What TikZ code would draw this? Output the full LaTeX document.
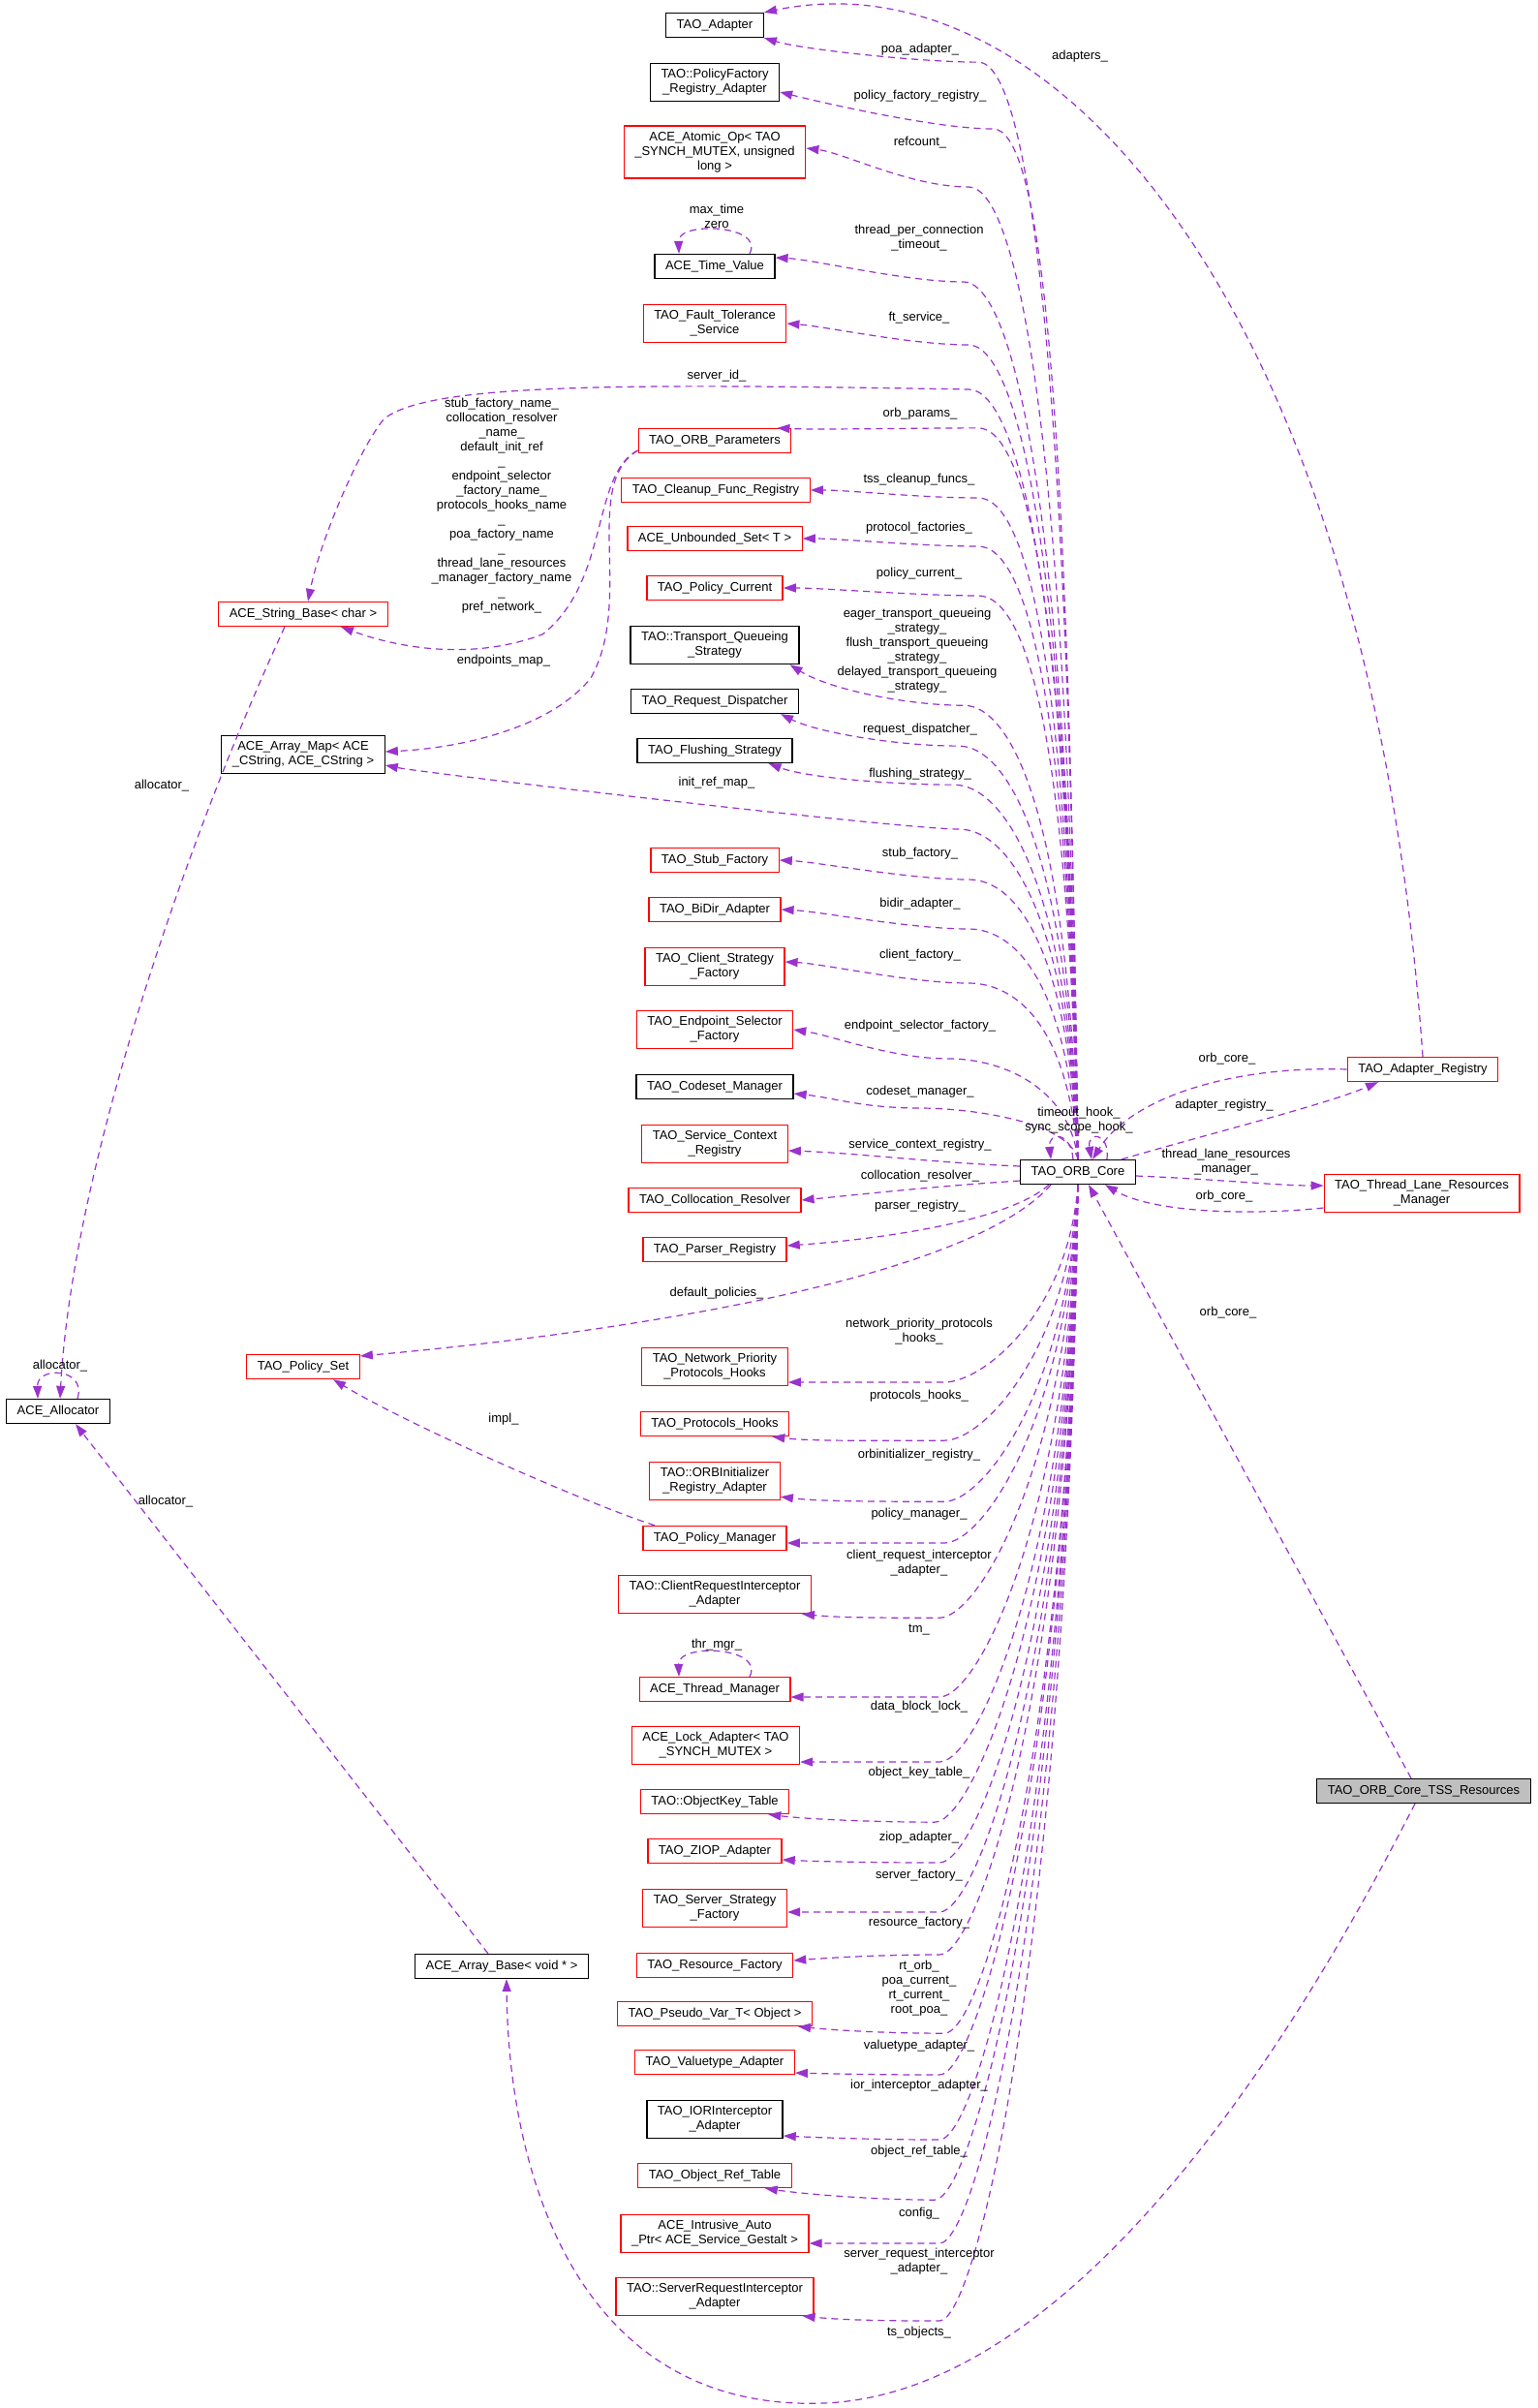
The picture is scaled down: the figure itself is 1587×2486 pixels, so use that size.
\documentclass[tikz,border=0pt]{standalone}
\usepackage{fontspec}
\setmainfont{Liberation Sans}
\usepackage{tikz}
\usetikzlibrary{arrows.meta,calc}

\definecolor{edgepurple}{HTML}{9A32CD}
\definecolor{tssgray}{HTML}{BFBFBF}

\tikzset{
  cls/.style={draw=black, line width=1.3pt, inner xsep=11pt, inner ysep=6pt, minimum height=25pt, align=center, font=\fontsize{13pt}{15pt}\selectfont},
  redcls/.style={cls, draw=red},
  member/.style={draw=edgepurple, line width=1.2pt, dash pattern=on 7pt off 5pt, -{Triangle[length=13pt,width=9pt]}},
  lbl/.style={inner sep=0pt, align=center, font=\fontsize{13pt}{15pt}\selectfont}
}

% from, to, corner x, corner drop, arrival drop
\newcommand{\memto}[5]{%
  \draw[member] let \p1=(#1), \p2=(#2) in
    (\p1) .. controls ({\x1-10pt},{\y2-(#4pt)+0.25*(\y1-\y2+(#4pt))}) and ({#3pt+50pt},{\y2-(#4pt)}) .. ({#3pt},{\y2-(#4pt)})
          .. controls ({#3pt-60pt},{\y2-(#4pt)}) and ({\x2+40pt},{\y2-(#5pt)}) .. (\p2);}
% same, sharper corner, for the members below the core
\newcommand{\memdown}[5]{%
  \draw[member] let \p1=(#1), \p2=(#2) in
    (\p1) .. controls ({\x1-10pt},{\y2-(#4pt)+0.35*(\y1-\y2+(#4pt))}) and ({#3pt+40pt},{\y2-(#4pt)}) .. ({#3pt},{\y2-(#4pt)})
          .. controls ({#3pt-60pt},{\y2-(#4pt)}) and ({\x2+40pt},{\y2-(#5pt)}) .. (\p2);}

\begin{document}
\begin{tikzpicture}[x=1pt, y=-1pt]
    \useasboundingbox[fill=white] (0,0) rectangle (1587,2486);

    \node[cls] (adapter) at (738,26) {TAO\_Adapter};
    \node[cls] (pfreg) at (738,85) {TAO::PolicyFactory\\\_Registry\_Adapter};
    \node[redcls] (atomic) at (738,157) {ACE\_Atomic\_Op< TAO\\\_SYNCH\_MUTEX, unsigned\\long >};
    \node[cls] (timeval) at (738,275) {ACE\_Time\_Value};
    \node[redcls] (ftserv) at (738,334) {TAO\_Fault\_Tolerance\\\_Service};
    \node[redcls] (orbparams) at (738,455) {TAO\_ORB\_Parameters};
    \node[redcls] (cleanup) at (739,506) {TAO\_Cleanup\_Func\_Registry};
    \node[redcls] (uset) at (738,556) {ACE\_Unbounded\_Set< T >};
    \node[redcls] (pcur) at (738,607) {TAO\_Policy\_Current};
    \node[cls] (tqs) at (738,666) {TAO::Transport\_Queueing\\\_Strategy};
    \node[cls] (rdisp) at (738,724) {TAO\_Request\_Dispatcher};
    \node[cls] (flush) at (738,775) {TAO\_Flushing\_Strategy};
    \node[redcls] (stubf) at (738,888) {TAO\_Stub\_Factory};
    \node[redcls] (bidir) at (738,939) {TAO\_BiDir\_Adapter};
    \node[redcls] (clientf) at (738,998) {TAO\_Client\_Strategy\\\_Factory};
    \node[redcls] (epsel) at (738,1063) {TAO\_Endpoint\_Selector\\\_Factory};
    \node[cls] (codeset) at (738,1122) {TAO\_Codeset\_Manager};
    \node[redcls] (scr) at (738,1181) {TAO\_Service\_Context\\\_Registry};
    \node[redcls] (colres) at (738,1239) {TAO\_Collocation\_Resolver};
    \node[redcls] (parser) at (738,1290) {TAO\_Parser\_Registry};
    \node[redcls] (npph) at (738,1411) {TAO\_Network\_Priority\\\_Protocols\_Hooks};
    \node[redcls] (phooks) at (738,1470) {TAO\_Protocols\_Hooks};
    \node[redcls] (orbinit) at (738,1529) {TAO::ORBInitializer\\\_Registry\_Adapter};
    \node[redcls] (polman) at (738,1588) {TAO\_Policy\_Manager};
    \node[redcls] (cria) at (738,1646) {TAO::ClientRequestInterceptor\\\_Adapter};
    \node[redcls] (thrmgr) at (738,1744) {ACE\_Thread\_Manager};
    \node[redcls] (lockad) at (739,1802) {ACE\_Lock\_Adapter< TAO\\\_SYNCH\_MUTEX >};
    \node[redcls] (okt) at (738,1860) {TAO::ObjectKey\_Table};
    \node[redcls] (ziop) at (738,1911) {TAO\_ZIOP\_Adapter};
    \node[redcls] (ssf) at (738,1970) {TAO\_Server\_Strategy\\\_Factory};
    \node[redcls] (resf) at (738,2029) {TAO\_Resource\_Factory};
    \node[redcls] (pvar) at (738,2079) {TAO\_Pseudo\_Var\_T< Object >};
    \node[redcls] (vta) at (738,2129) {TAO\_Valuetype\_Adapter};
    \node[cls] (iora) at (738,2188) {TAO\_IORInterceptor\\\_Adapter};
    \node[redcls] (ort) at (738,2246) {TAO\_Object\_Ref\_Table};
    \node[redcls] (iap) at (738,2306) {ACE\_Intrusive\_Auto\\\_Ptr< ACE\_Service\_Gestalt >};
    \node[redcls] (sria) at (738,2371) {TAO::ServerRequestInterceptor\\\_Adapter};

    \node[redcls] (strbase) at (313,634) {ACE\_String\_Base< char >};
    \node[cls] (amap) at (313,779) {ACE\_Array\_Map< ACE\\\_CString, ACE\_CString >};
    \node[redcls] (pset) at (313,1411) {TAO\_Policy\_Set};
    \node[cls] (alloc) at (60,1457) {ACE\_Allocator};
    \node[cls] (abase) at (518,2030) {ACE\_Array\_Base< void * >};
    \node[cls] (core) at (1113,1210) {TAO\_ORB\_Core};
    \node[redcls] (areg) at (1469,1104) {TAO\_Adapter\_Registry};
    \node[redcls] (tlrm) at (1468,1232) {TAO\_Thread\_Lane\_Resources\\\_Manager};
    \node[cls, fill=tssgray] (tss) at (1470,1849) {TAO\_ORB\_Core\_TSS\_Resources};

    \memto{core.north}{adapter.south east}{1010}{25}{12}
    \memto{core.north}{[yshift=-10pt]pfreg.east}{1025}{38}{10}
    \memto{core.north}{[yshift=4pt]atomic.east}{1000}{40}{5}
    \memto{core.north}{[yshift=9pt]timeval.east}{995}{25}{2}
    \memto{core.north}{ftserv.east}{1000}{22}{3}
    \memto{core.north}{[xshift=-15pt]orbparams.north east}{1010}{0}{2}
    \memto{core.north}{cleanup.east}{1010}{8}{0}
    \memto{core.north}{uset.east}{1010}{8}{0}
    \memto{core.north}{pcur.east}{1010}{8}{0}
    \memto{core.north}{[xshift=-10pt]tqs.south east}{995}{42}{25}
    \memto{core.north}{[xshift=-19pt]rdisp.south east}{990}{33}{20}
    \memto{core.north}{[xshift=-25pt]flush.south east}{985}{22}{15}
    \memto{core.north}{[yshift=-11pt]amap.east}{990}{66}{8}
    \memto{core.north}{stubf.east}{1000}{20}{2}
    \memto{core.north}{bidir.east}{1000}{20}{2}
    \memto{core.north}{[yshift=5pt]clientf.east}{1000}{22}{2}
    \memto{core.north}{epsel.east}{980}{30}{6}
    \memto{core.north}{[yshift=-7pt]codeset.east}{950}{15}{4}

    \memdown{core.south}{[yshift=-16pt]npph.east}{975}{0}{0}
    \memdown{core.south}{[xshift=-18pt]phooks.south east}{975}{4}{5}
    \memdown{core.south}{[yshift=4pt]orbinit.south east}{975}{5}{5}
    \memdown{core.south}{[yshift=-5pt]polman.east}{975}{0}{0}
    \memdown{core.south}{[xshift=-10pt]cria.south east}{970}{4}{4}
    \memdown{core.south}{[yshift=-8pt]thrmgr.east}{970}{0}{0}
    \memdown{core.south}{[yshift=-17pt]lockad.east}{970}{0}{0}
    \memdown{core.south}{[xshift=-22pt]okt.south east}{965}{8}{5}
    \memdown{core.south}{[yshift=-9pt]ziop.east}{970}{3}{2}
    \memdown{core.south}{[yshift=-4pt]ssf.east}{970}{0}{0}
    \memdown{core.south}{[yshift=5pt]resf.east}{970}{-6}{-3}
    \memdown{core.south}{[xshift=-15pt]pvar.south east}{975}{7}{4}
    \memdown{core.south}{[yshift=-11pt]vta.east}{970}{2}{1}
    \memdown{core.south}{[yshift=-17pt]iora.east}{970}{4}{2}
    \memdown{core.south}{[xshift=-28pt]ort.south east}{965}{12}{6}
    \memdown{core.south}{[yshift=-10pt]iap.east}{970}{0}{0}
    \memdown{core.south}{[xshift=-12pt]sria.south east}{970}{5}{4}

    \draw[member] (core.north) .. controls (1103,601) and (1050,402) .. (1000,402)
        .. controls (650,396) and (440,395) .. (396,433)
        .. controls (370,465) and (330,560) .. ([xshift=5pt]strbase.north);
    \draw[member] ([yshift=6pt]core.west) .. controls (960,1200) and (880,1190) .. ([yshift=-7pt]scr.east);
    \draw[member] ([yshift=-9pt]core.west) .. controls (960,1225) and (880,1234) .. (colres.east);
    \draw[member] ([xshift=-30pt]core.south) .. controls (1040,1262) and (900,1280) .. ([yshift=4pt]parser.east);
    \draw[member] ([xshift=-28pt]core.south) .. controls (1000,1320) and (650,1375) .. ([yshift=11pt]pset.east);

    \draw[member] ([xshift=-5pt]core.north) .. controls (1106,1168) and (1082,1168) .. ([xshift=-28pt]core.north);
    \draw[member] ([xshift=30pt]core.north) .. controls (1146,1168) and (1122,1168) .. ([xshift=14pt]core.north);
    \draw[member] ([xshift=36pt]timeval.north) .. controls (790,232) and (700,228) .. ([xshift=-37pt]timeval.north);
    \draw[member] ([xshift=36pt]thrmgr.north) .. controls (790,1700) and (700,1696) .. ([xshift=-37pt]thrmgr.north);
    \draw[member] ([xshift=20pt]alloc.north) .. controls (90,1412) and (38,1410) .. ([xshift=-21pt]alloc.north);

    \draw[member] (areg.north) .. controls (1415,320) and (1090,-50) .. (adapter.north east);
    \draw[member] (areg.west) .. controls (1280,1100) and (1170,1130) .. ([xshift=15pt]core.north);
    \draw[member] ([xshift=45pt]core.north) .. controls (1250,1170) and (1370,1140) .. ([xshift=-46pt]areg.south);
    \draw[member] ([yshift=-4pt]core.east) .. controls (1250,1217) and (1320,1224) .. ([yshift=8pt]tlrm.west);
    \draw[member] ([yshift=-15pt]tlrm.west) .. controls (1290,1255) and (1190,1252) .. ([xshift=28pt]core.south);
    \draw[member] ([xshift=-13pt]tss.north) -- ([xshift=11pt]core.south);
    \draw[member] ([xshift=-9pt]tss.south) .. controls (1400,1980) and (1150,2470) .. (850,2481)
        .. controls (600,2490) and (525,2250) .. ([xshift=5pt]abase.south);
    \draw[member] ([xshift=-14pt]abase.north) -- ([xshift=18pt]alloc.south);
    \draw[member] ([xshift=-19pt]strbase.south) .. controls (200,850) and (75,1200) .. ([xshift=2pt]alloc.north);
    \draw[member] ([yshift=-10pt]orbparams.west) .. controls (610,490) and (630,600) .. (560,655)
        .. controls (480,685) and (400,665) .. ([xshift=39pt]strbase.south);
    \draw[member] ([yshift=-10pt]orbparams.west) .. controls (600,500) and (655,620) .. (610,700)
        .. controls (570,750) and (480,772) .. ([yshift=3pt]amap.east);
    \draw[member] ([xshift=-62pt]polman.north) .. controls (600,1550) and (420,1470) .. ([xshift=31pt]pset.south);

    \node[lbl] (lmaxtime) at (740,223) {max\_time\\zero};
    \node[lbl] (lpoa) at (950,51) {poa\_adapter\_};
    \node[lbl] (lpfreg) at (950,99) {policy\_factory\_registry\_};
    \node[lbl] (lrefcount) at (950,147) {refcount\_};
    \node[lbl] (ltimeout) at (949,246) {thread\_per\_connection\\\_timeout\_};
    \node[lbl] (lft) at (949,328) {ft\_service\_};
    \node[lbl] (lserverid) at (740,388) {server\_id\_};
    \node[lbl] (ladapters) at (1115,58) {adapters\_};
    \node[lbl] (lorbparams) at (950,427) {orb\_params\_};
    \node[lbl] (ltss) at (949,495) {tss\_cleanup\_funcs\_};
    \node[lbl] (lprotfac) at (949,545) {protocol\_factories\_};
    \node[lbl] (lpcur) at (949,592) {policy\_current\_};
    \node[lbl] (ltqs) at (947,672) {eager\_transport\_queueing\\\_strategy\_\\flush\_transport\_queueing\\\_strategy\_\\delayed\_transport\_queueing\\\_strategy\_};
    \node[lbl] (lrdisp) at (950,753) {request\_dispatcher\_};
    \node[lbl] (lflush) at (950,799) {flushing\_strategy\_};
    \node[lbl] (linitref) at (740,808) {init\_ref\_map\_};
    \node[lbl] (lstub) at (950,881) {stub\_factory\_};
    \node[lbl] (lbidir) at (950,933) {bidir\_adapter\_};
    \node[lbl] (lclientf) at (950,986) {client\_factory\_};
    \node[lbl] (lepsel) at (950,1059) {endpoint\_selector\_factory\_};
    \node[lbl] (lcodeset) at (950,1127) {codeset\_manager\_};
    \node[lbl] (lhooks) at (1114,1157) {timeout\_hook\_\\sync\_scope\_hook\_};
    \node[lbl] (lscr) at (950,1182) {service\_context\_registry\_};
    \node[lbl] (lcolres) at (950,1214) {collocation\_resolver\_};
    \node[lbl] (lparser) at (950,1245) {parser\_registry\_};
    \node[lbl] (lorbcorea) at (1267,1093) {orb\_core\_};
    \node[lbl] (lareg) at (1264,1141) {adapter\_registry\_};
    \node[lbl] (ltlrm) at (1266,1200) {thread\_lane\_resources\\\_manager\_};
    \node[lbl] (lorbcoreb) at (1264,1235) {orb\_core\_};
    \node[lbl] (lorbcorec) at (1268,1355) {orb\_core\_};
    \node[lbl] (ldefpol) at (740,1335) {default\_policies\_};
    \node[lbl] (lnpph) at (949,1375) {network\_priority\_protocols\\\_hooks\_};
    \node[lbl] (lphooks) at (949,1441) {protocols\_hooks\_};
    \node[lbl] (lorbinit) at (949,1502) {orbinitializer\_registry\_};
    \node[lbl] (lpolman) at (949,1563) {policy\_manager\_};
    \node[lbl] (lcria) at (949,1614) {client\_request\_interceptor\\\_adapter\_};
    \node[lbl] (ltm) at (949,1683) {tm\_};
    \node[lbl] (lthrmgr) at (740,1698) {thr\_mgr\_};
    \node[lbl] (ldblock) at (949,1762) {data\_block\_lock\_};
    \node[lbl] (lokt) at (949,1830) {object\_key\_table\_};
    \node[lbl] (lziop) at (949,1897) {ziop\_adapter\_};
    \node[lbl] (lssf) at (949,1936) {server\_factory\_};
    \node[lbl] (lresf) at (949,1985) {resource\_factory\_};
    \node[lbl] (lpvar) at (949,2053) {rt\_orb\_\\poa\_current\_\\rt\_current\_\\root\_poa\_};
    \node[lbl] (lvta) at (949,2112) {valuetype\_adapter\_};
    \node[lbl] (liora) at (949,2153) {ior\_interceptor\_adapter\_};
    \node[lbl] (lort) at (949,2221) {object\_ref\_table\_};
    \node[lbl] (lconfig) at (949,2285) {config\_};
    \node[lbl] (lsria) at (949,2335) {server\_request\_interceptor\\\_adapter\_};
    \node[lbl] (ltsobj) at (949,2408) {ts\_objects\_};
    \node[lbl] (lallocself) at (62,1410) {allocator\_};
    \node[lbl] (lallocup) at (167,811) {allocator\_};
    \node[lbl] (lalloclow) at (171,1550) {allocator\_};
    \node[lbl] (limpl) at (520,1465) {impl\_};
    \node[lbl] (lepmap) at (520,682) {endpoints\_map\_};
    \node[lbl] (lnames) at (518,522) {stub\_factory\_name\_\\collocation\_resolver\\\_name\_\\default\_init\_ref\\\_\\endpoint\_selector\\\_factory\_name\_\\protocols\_hooks\_name\\\_\\poa\_factory\_name\\\_\\thread\_lane\_resources\\\_manager\_factory\_name\\\_\\pref\_network\_};
\end{tikzpicture}
\end{document}
